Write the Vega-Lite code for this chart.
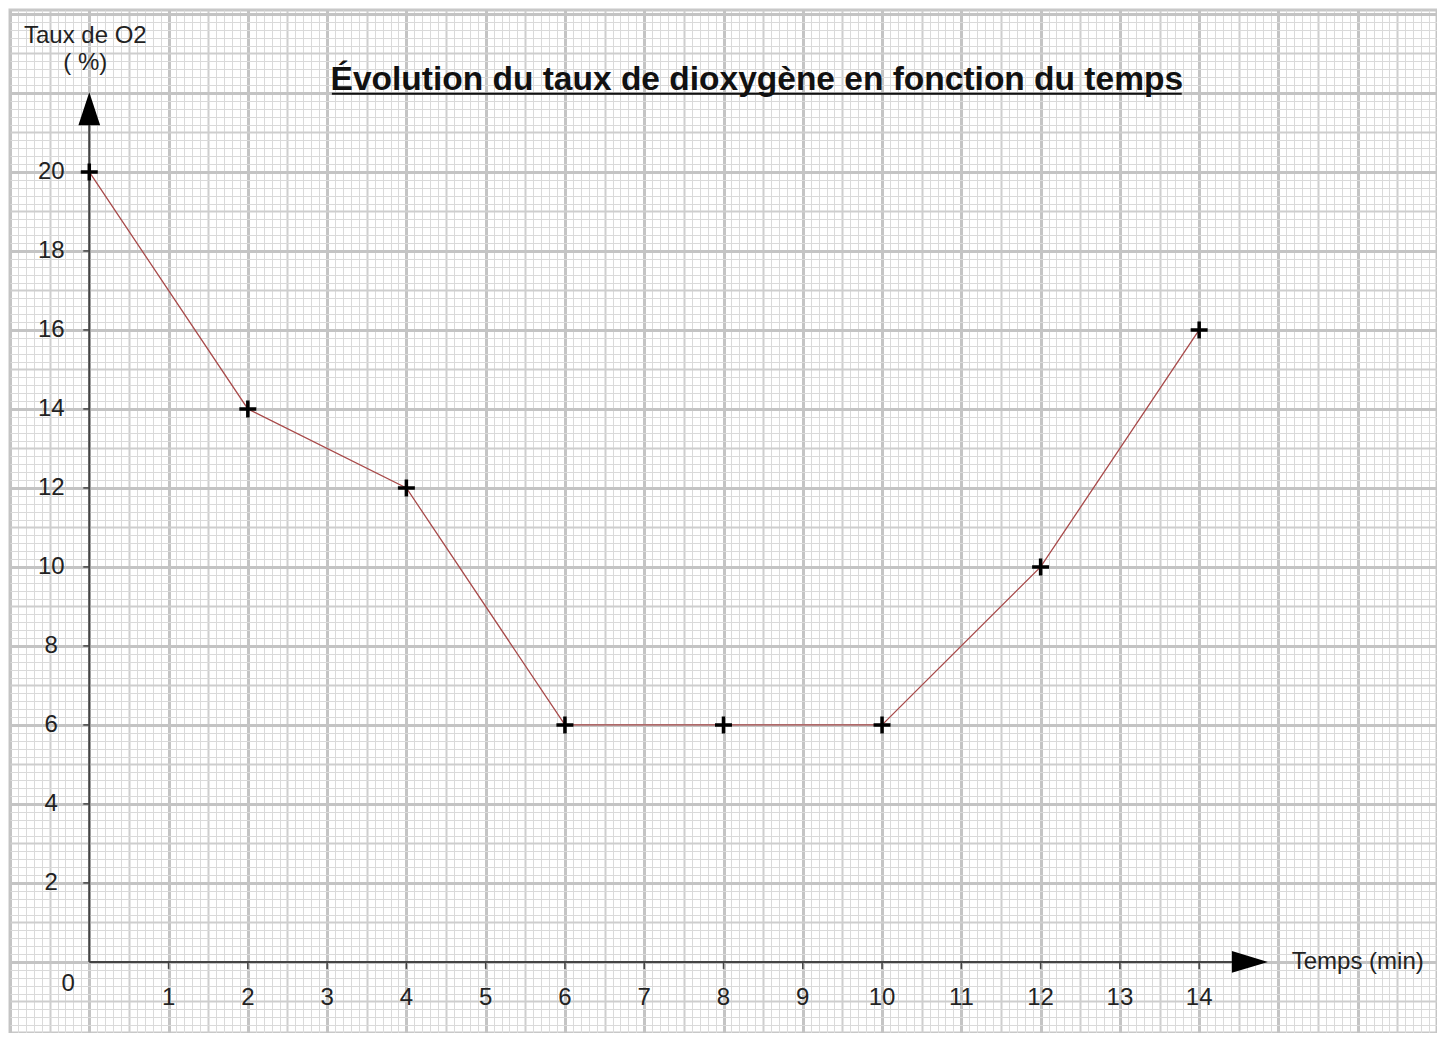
{
  "$schema": "https://vega.github.io/schema/vega-lite/v6.json",
  "width": 1427,
  "height": 1023,
  "autosize": {"type": "none"},
  "padding": {"left": 10, "top": 10, "right": 0, "bottom": 0},
  "background": "white",
  "config": {
    "view": {"stroke": "#c8c8c8", "strokeWidth": 3},
    "text": {"font": "Liberation Sans", "fontSize": 24, "color": "#222222"}
  },
  "datasets": {
    "mesures": [
      {"temps": 0, "taux": 20},
      {"temps": 2, "taux": 14},
      {"temps": 4, "taux": 12},
      {"temps": 6, "taux": 6},
      {"temps": 8, "taux": 6},
      {"temps": 10, "taux": 6},
      {"temps": 12, "taux": 10},
      {"temps": 14, "taux": 16}
    ],
    "graduations_x": [
      {"v": 1}, {"v": 2}, {"v": 3}, {"v": 4}, {"v": 5}, {"v": 6}, {"v": 7},
      {"v": 8}, {"v": 9}, {"v": 10}, {"v": 11}, {"v": 12}, {"v": 13}, {"v": 14}
    ],
    "graduations_y": [
      {"v": 2}, {"v": 4}, {"v": 6}, {"v": 8}, {"v": 10},
      {"v": 12}, {"v": 14}, {"v": 16}, {"v": 18}, {"v": 20}
    ],
    "unique": [{}]
  },
  "layer": [
    {
      "data": {"name": "mesures"},
      "mark": {"type": "line", "color": "#a84a4a", "strokeWidth": 1.3},
      "encoding": {
        "x": {
          "field": "temps", "type": "quantitative",
          "scale": {"domain": [-1, 17], "nice": false, "zero": false},
          "axis": {
            "title": null, "labels": false, "ticks": false, "domain": false,
            "grid": true, "tickCount": 180,
            "gridColor": {
              "condition": [
                {"test": "abs(datum.value - round(datum.value)) < 0.001", "value": "#c4c4c4"},
                {"test": "abs(datum.value * 2 - round(datum.value * 2)) < 0.001", "value": "#cecece"}
              ],
              "value": "#dadada"
            },
            "gridWidth": {
              "condition": [
                {"test": "abs(datum.value - round(datum.value)) < 0.001", "value": 3},
                {"test": "abs(datum.value * 2 - round(datum.value * 2)) < 0.001", "value": 2}
              ],
              "value": 1
            },
            "gridOpacity": 1
          }
        },
        "y": {
          "field": "taux", "type": "quantitative",
          "scale": {"domain": [-1.8, 24.1], "nice": false, "zero": false},
          "axis": {
            "title": null, "labels": false, "ticks": false, "domain": false,
            "grid": true, "tickCount": 130,
            "gridColor": {
              "condition": [
                {"test": "abs(datum.value / 2 - round(datum.value / 2)) < 0.001", "value": "#c4c4c4"},
                {"test": "abs(datum.value - round(datum.value)) < 0.001", "value": "#cecece"}
              ],
              "value": "#dadada"
            },
            "gridWidth": {
              "condition": [
                {"test": "abs(datum.value / 2 - round(datum.value / 2)) < 0.001", "value": 3},
                {"test": "abs(datum.value - round(datum.value)) < 0.001", "value": 2}
              ],
              "value": 1
            },
            "gridOpacity": 1
          }
        }
      }
    },
    {
      "data": {"name": "unique"},
      "mark": {"type": "rule", "color": "#444444", "strokeWidth": 2},
      "encoding": {"x": {"datum": 0}, "y": {"datum": 0}, "y2": {"datum": 21.2}}
    },
    {
      "data": {"name": "unique"},
      "mark": {"type": "rule", "color": "#444444", "strokeWidth": 2},
      "encoding": {"y": {"datum": 0}, "x": {"datum": 0}, "x2": {"datum": 14.45}}
    },
    {
      "data": {"name": "unique"},
      "mark": {"type": "point", "shape": "M0,-1L0.66,1L-0.66,1Z", "filled": true, "color": "#000000", "opacity": 1, "size": 1089},
      "encoding": {"x": {"datum": 0}, "y": {"datum": 21.6}}
    },
    {
      "data": {"name": "unique"},
      "mark": {"type": "point", "shape": "M1,0L-1,-0.6L-1,0.6Z", "filled": true, "color": "#000000", "opacity": 1, "size": 1296},
      "encoding": {"x": {"datum": 14.64}, "y": {"datum": 0}}
    },
    {
      "data": {"name": "graduations_x"},
      "mark": {"type": "rule", "color": "#444444", "strokeWidth": 1.5, "y2Offset": 7},
      "encoding": {"x": {"field": "v", "type": "quantitative"}, "y": {"datum": 0}, "y2": {"datum": 0}}
    },
    {
      "data": {"name": "graduations_y"},
      "mark": {"type": "rule", "color": "#444444", "strokeWidth": 1.5, "x2Offset": -6},
      "encoding": {"y": {"field": "v", "type": "quantitative"}, "x": {"datum": 0}, "x2": {"datum": 0}}
    },
    {
      "data": {"name": "graduations_x"},
      "mark": {"type": "text", "dy": 36, "baseline": "middle", "align": "center"},
      "encoding": {"x": {"field": "v", "type": "quantitative"}, "y": {"datum": 0}, "text": {"field": "v", "type": "quantitative"}}
    },
    {
      "data": {"name": "graduations_y"},
      "mark": {"type": "text", "dx": -38, "baseline": "middle", "align": "center"},
      "encoding": {"y": {"field": "v", "type": "quantitative"}, "x": {"datum": 0}, "text": {"field": "v", "type": "quantitative"}}
    },
    {
      "data": {"name": "unique"},
      "mark": {"type": "text", "dx": -21, "dy": 22, "baseline": "middle", "align": "center", "text": "0"},
      "encoding": {"x": {"datum": 0}, "y": {"datum": 0}}
    },
    {
      "data": {"name": "unique"},
      "mark": {"type": "text", "baseline": "middle", "align": "center", "text": "Temps (min)"},
      "encoding": {"x": {"datum": 16}, "y": {"datum": 0}}
    },
    {
      "data": {"name": "unique"},
      "mark": {"type": "text", "baseline": "middle", "align": "center", "lineHeight": 27, "text": ["Taux de O2", "( %)"]},
      "encoding": {"x": {"datum": -0.05}, "y": {"datum": 23.43}}
    },
    {
      "data": {"name": "unique"},
      "mark": {"type": "text", "baseline": "middle", "align": "center", "fontSize": 33.5, "fontWeight": "bold", "color": "#111111", "text": "Évolution du taux de dioxygène en fonction du temps"},
      "encoding": {"x": {"datum": 8.42}, "y": {"datum": 22.33}}
    },
    {
      "data": {"name": "unique"},
      "mark": {"type": "rule", "color": "#111111", "strokeWidth": 2},
      "encoding": {"y": {"datum": 21.98}, "x": {"datum": 3.06}, "x2": {"datum": 13.78}}
    },
    {
      "data": {"name": "mesures"},
      "mark": {"type": "point", "shape": "M-1,0H1M0,-1V1", "filled": false, "stroke": "#000000", "strokeWidth": 3.5, "opacity": 1, "size": 289},
      "encoding": {"x": {"field": "temps", "type": "quantitative"}, "y": {"field": "taux", "type": "quantitative"}}
    }
  ]
}
